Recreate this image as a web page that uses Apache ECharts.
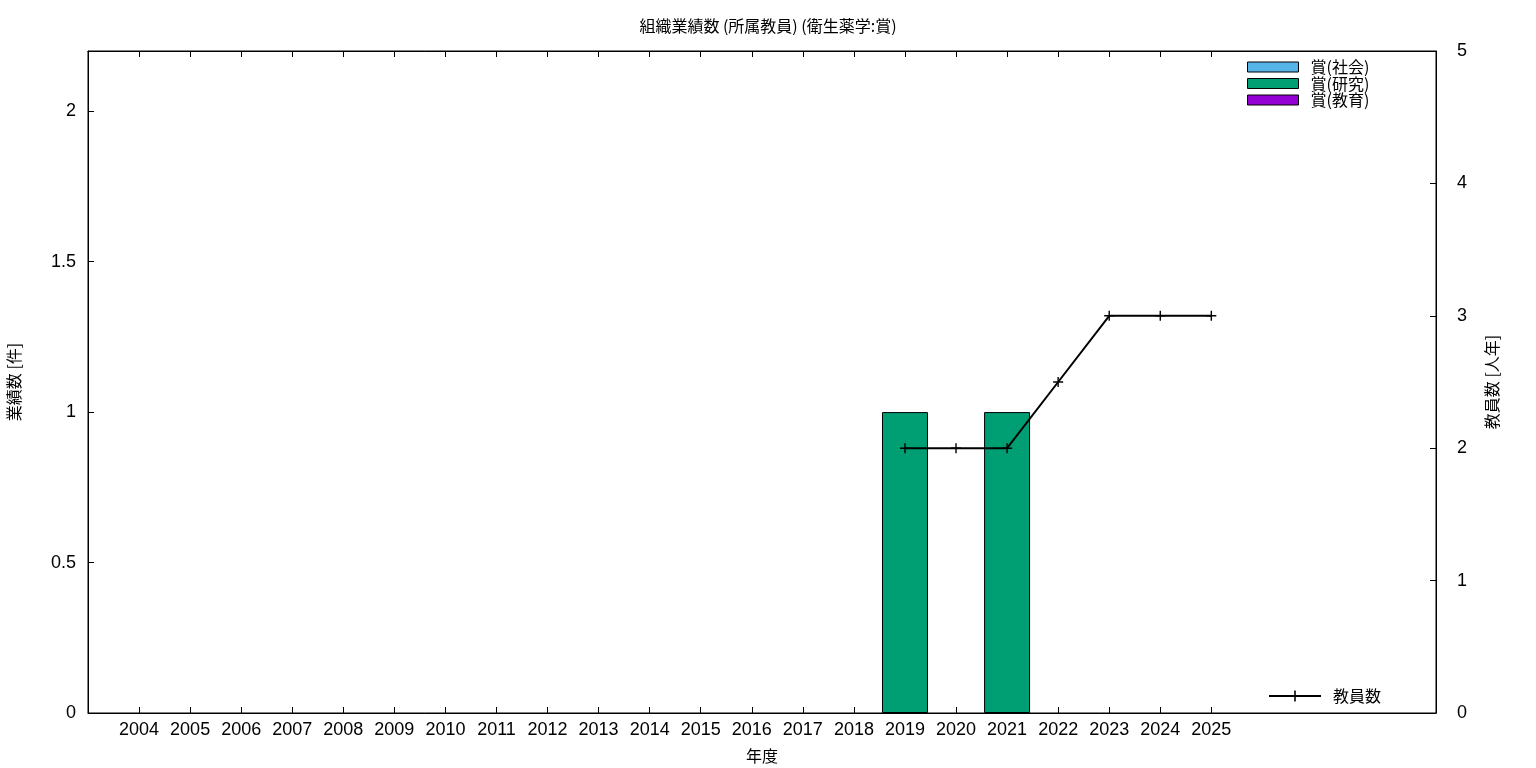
<!DOCTYPE html>
<html>
<head>
<meta charset="utf-8">
<script src="https://cdn.jsdelivr.net/npm/echarts@6/dist/echarts.min.js"></script>
<style>html,body{margin:0;padding:0;background:#fff}#c{width:1536px;height:768px}</style>
</head>
<body>
<div id="c"></div>
<script>
const years = ['2004','2005','2006','2007','2008','2009','2010','2011','2012','2013','2014','2015','2016','2017','2018','2019','2020','2021','2022','2023','2024','2025'];
const awardSocial    = [0,0,0,0,0,0,0,0,0,0,0,0,0,0,0,0,0,0,0,0,0,0];
const awardResearch  = [0,0,0,0,0,0,0,0,0,0,0,0,0,0,0,1,0,1,0,0,0,0];
const awardEducation = [0,0,0,0,0,0,0,0,0,0,0,0,0,0,0,0,0,0,0,0,0,0];
const faculty = [null,null,null,null,null,null,null,null,null,null,null,null,null,null,null,2,2,2,2.5,3,3,3];
const leftTicks = [0, 0.5, 1, 1.5, 2];
const rightTicks = [0, 1, 2, 3, 4, 5];

const idx = years.map((_, i) => i);
const toPairs = arr => arr.map((v, i) => [i, v === 0 ? '-' : v]);
const FONT = '"Liberation Sans", Arial, sans-serif';
const CJK = '"Noto Sans CJK JP", sans-serif';
const plus = 'path://M0,4.3H10V5.7H0Z M4.3,0H5.7V10H4.3Z';

const chart = echarts.init(document.getElementById('c'), null, {renderer: 'canvas'});
const barCommon = {
  type: 'bar', stack: 'a', barWidth: 46, xAxisIndex: 0, yAxisIndex: 0
};
chart.setOption({
  animation: false,
  backgroundColor: '#fff',
  title: {
    text: '組織業績数 (所属教員) (衛生薬学:賞)', left: 'center', top: 13,
    textStyle: {fontFamily: CJK, fontSize: 16, fontWeight: 'normal', color: '#000'}
  },
  grid: {left: 88, right: 100, top: 51, bottom: 55, show: true, borderColor: '#000', borderWidth: 1,
         containLabel: false, outerBoundsMode: 'none'},
  legend: [
    {
      data: ['賞(社会)', '賞(研究)', '賞(教育)'], icon: 'rect', padding: 0,
      orient: 'vertical', left: 1247, top: 59, itemWidth: 51, itemHeight: 10, itemGap: 0.5,
      itemStyle: {borderColor: '#000', borderWidth: 1},
      textStyle: {fontFamily: CJK, fontSize: 16, color: '#000', lineHeight: 16, padding: [0,0,0,7]}
    },
    {
      data: ['教員数'], orient: 'vertical', left: 1268, top: 688, padding: 0, itemWidth: 52, itemHeight: 14,
      textStyle: {fontFamily: CJK, fontSize: 16, color: '#000', padding: [0,0,0,7]}
    }
  ],
  xAxis: [
    {
      type: 'value', min: -1, max: 25.4, interval: 1, position: 'bottom',
      name: '年度', nameLocation: 'middle', nameGap: 35,
      nameTextStyle: {fontFamily: CJK, fontSize: 16, color: '#000'},
      axisLine: {show: true, onZero: false, lineStyle: {color: '#000', width: 1}},
      axisTick: {show: true, inside: true, length: 6, customValues: idx, lineStyle: {color: '#000'}},
      axisLabel: {customValues: idx, formatter: v => years[v] || '', fontFamily: FONT, fontSize: 18, color: '#000', margin: 8},
      splitLine: {show: false}
    },
    {
      type: 'value', min: -1, max: 25.4, interval: 1, position: 'top',
      axisLine: {show: true, onZero: false, lineStyle: {color: '#000', width: 1}},
      axisTick: {show: true, inside: true, length: 6, customValues: idx, lineStyle: {color: '#000'}},
      axisLabel: {show: false},
      splitLine: {show: false}
    }
  ],
  yAxis: [
    {
      type: 'value', min: 0, max: 2.2, position: 'left',
      name: '業績数 [件]', nameLocation: 'middle', nameGap: 66,
      nameTextStyle: {fontFamily: CJK, fontSize: 16, color: '#000'},
      axisLine: {show: true, onZero: false, lineStyle: {color: '#000', width: 1}},
      axisTick: {show: true, inside: true, length: 6, customValues: leftTicks, lineStyle: {color: '#000'}},
      axisLabel: {customValues: leftTicks, fontFamily: FONT, fontSize: 18, color: '#000', margin: 12},
      splitLine: {show: false}
    },
    {
      type: 'value', min: 0, max: 5, interval: 1, position: 'right',
      name: '教員数 [人年]', nameLocation: 'middle', nameGap: 48, nameRotate: 90,
      nameTextStyle: {fontFamily: CJK, fontSize: 16, color: '#000'},
      axisLine: {show: true, onZero: false, lineStyle: {color: '#000', width: 1}},
      axisTick: {show: true, inside: true, length: 6, customValues: rightTicks, lineStyle: {color: '#000'}},
      axisLabel: {customValues: rightTicks, fontFamily: FONT, fontSize: 18, color: '#000', margin: 21},
      splitLine: {show: false}
    }
  ],
  series: [
    Object.assign({}, barCommon, {name: '賞(社会)', data: toPairs(awardSocial), itemStyle: {color: '#56b4e9', borderColor: '#000', borderWidth: 1}}),
    Object.assign({}, barCommon, {name: '賞(研究)', data: toPairs(awardResearch), itemStyle: {color: '#009e73', borderColor: '#000', borderWidth: 1}}),
    Object.assign({}, barCommon, {name: '賞(教育)', data: toPairs(awardEducation), itemStyle: {color: '#9400d3', borderColor: '#000', borderWidth: 1}}),
    {
      name: '教員数', type: 'line', xAxisIndex: 0, yAxisIndex: 1,
      data: faculty.map((v, i) => [i, v]),
      symbol: plus, symbolSize: 10, showSymbol: true,
      lineStyle: {color: '#000', width: 2},
      itemStyle: {color: '#000'},
      connectNulls: false
    }
  ]
});
</script>
</body>
</html>
